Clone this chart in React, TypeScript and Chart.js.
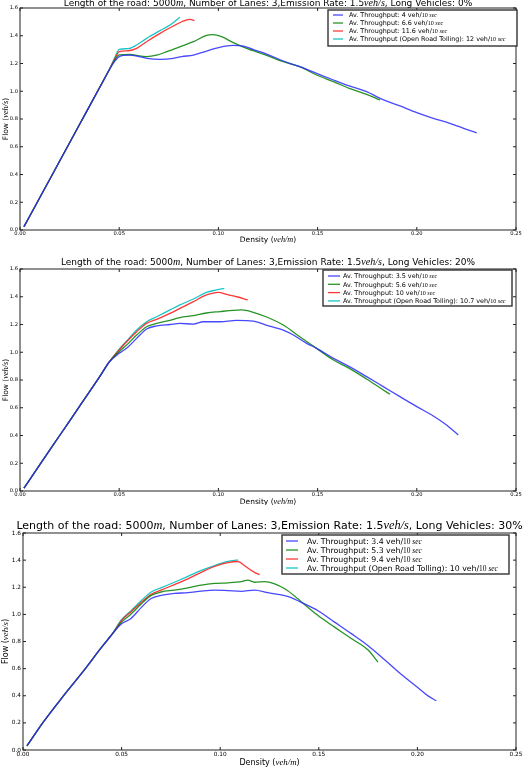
import React, { useEffect, useRef } from "react";
import { Chart, registerables } from "chart.js";
Chart.register(...registerables);

// ---------- Data: Long Vehicles 0% ----------
const c1StartX = [0.002, 0.01, 0.02, 0.03, 0.04, 0.045];
const c1StartY = [0.024, 0.234, 0.497, 0.76, 1.023, 1.155];
const c1BlueX = [0.048, 0.05, 0.055, 0.06, 0.064, 0.0706, 0.0773, 0.0815, 0.0874, 0.094, 0.1, 0.1075, 0.1126, 0.1176, 0.124, 0.1327, 0.141, 0.1495, 0.158, 0.166, 0.1747, 0.1815, 0.1915, 0.2, 0.2083, 0.2167, 0.225, 0.2302];
const c1BlueY = [1.22, 1.25, 1.26, 1.25, 1.237, 1.23, 1.237, 1.25, 1.26, 1.29, 1.314, 1.33, 1.326, 1.3, 1.27, 1.218, 1.177, 1.129, 1.081, 1.038, 0.997, 0.949, 0.894, 0.846, 0.805, 0.769, 0.726, 0.7];
const c1GreenX = [0.048, 0.05, 0.055, 0.0638, 0.0689, 0.074, 0.0806, 0.0874, 0.094, 0.0974, 0.1016, 0.1075, 0.1142, 0.124, 0.1327, 0.141, 0.1495, 0.158, 0.166, 0.1747, 0.1815];
const c1GreenY = [1.23, 1.262, 1.265, 1.25, 1.26, 1.285, 1.32, 1.357, 1.403, 1.408, 1.393, 1.35, 1.309, 1.261, 1.213, 1.177, 1.117, 1.069, 1.021, 0.978, 0.937];
const c1RedX = [0.048, 0.05, 0.0546, 0.0588, 0.0638, 0.0706, 0.0773, 0.0815, 0.0857, 0.0879];
const c1RedY = [1.24, 1.285, 1.292, 1.309, 1.357, 1.417, 1.47, 1.501, 1.518, 1.509];
const c1CyanX = [0.048, 0.05, 0.0546, 0.0588, 0.0638, 0.0706, 0.0756, 0.0806];
const c1CyanY = [1.25, 1.302, 1.307, 1.333, 1.381, 1.437, 1.477, 1.533];
const c1Labels = ["Av. Throughput: 4 veh/", "Av. Throughput: 6.6 veh/", "Av. Throughput: 11.6 veh/", "Av. Throughput (Open Road Tolling): 12 veh/"];
const c1Long = "0%";

// ---------- Data: Long Vehicles 20% ----------
const c2StartX = [0.002, 0.01, 0.02, 0.03, 0.04, 0.045];
const c2StartY = [0.02, 0.19, 0.4, 0.61, 0.82, 0.93];
const c2BlueX = [0.05, 0.0546, 0.0588, 0.0638, 0.0689, 0.0756, 0.0806, 0.0874, 0.0924, 0.1008, 0.1092, 0.1176, 0.124, 0.1327, 0.1378, 0.1445, 0.1495, 0.158, 0.166, 0.1747, 0.1831, 0.1915, 0.2, 0.2083, 0.215, 0.2209];
const c2BlueY = [0.992, 1.04, 1.1, 1.168, 1.19, 1.2, 1.208, 1.203, 1.22, 1.22, 1.23, 1.225, 1.196, 1.16, 1.124, 1.064, 1.028, 0.956, 0.896, 0.824, 0.752, 0.68, 0.608, 0.541, 0.476, 0.404];
const c2GreenX = [0.05, 0.0546, 0.0588, 0.0638, 0.0689, 0.0756, 0.0806, 0.0874, 0.094, 0.1008, 0.1075, 0.1117, 0.1176, 0.124, 0.1327, 0.141, 0.1495, 0.158, 0.166, 0.1747, 0.1831, 0.1865];
const c2GreenY = [1.004, 1.064, 1.124, 1.184, 1.208, 1.23, 1.25, 1.264, 1.283, 1.293, 1.302, 1.305, 1.288, 1.256, 1.196, 1.112, 1.028, 0.944, 0.884, 0.807, 0.728, 0.697];
const c2RedX = [0.05, 0.0546, 0.0588, 0.0638, 0.0689, 0.0756, 0.0806, 0.0874, 0.094, 0.1, 0.1042, 0.1092, 0.1148];
const c2RedY = [1.016, 1.088, 1.148, 1.208, 1.237, 1.28, 1.316, 1.365, 1.413, 1.432, 1.417, 1.4, 1.377];
const c2CyanX = [0.05, 0.0546, 0.0588, 0.0638, 0.0689, 0.0756, 0.0806, 0.0874, 0.094, 0.0991, 0.103];
const c2CyanY = [1.023, 1.095, 1.16, 1.22, 1.256, 1.305, 1.341, 1.384, 1.432, 1.449, 1.46];
const c2Labels = ["Av. Throughput: 3.5 veh/", "Av. Throughput: 5.6 veh/", "Av. Throughput: 10 veh/", "Av. Throughput (Open Road Tolling): 10.7 veh/"];
const c2Long = "20%";

// ---------- Data: Long Vehicles 30% ----------
const c3StartX = [0.002, 0.01, 0.02, 0.03, 0.04, 0.045];
const c3StartY = [0.03, 0.2, 0.39, 0.57, 0.76, 0.85];
const c3BlueX = [0.05, 0.0548, 0.0599, 0.065, 0.07, 0.0768, 0.0836, 0.0904, 0.0971, 0.1039, 0.1107, 0.1174, 0.1242, 0.131, 0.136, 0.1411, 0.1496, 0.158, 0.1665, 0.175, 0.1834, 0.1919, 0.2003, 0.2054, 0.2096];
const c3BlueY = [0.93, 0.97, 1.05, 1.117, 1.14, 1.155, 1.16, 1.172, 1.179, 1.175, 1.17, 1.179, 1.16, 1.143, 1.124, 1.088, 1.027, 0.943, 0.858, 0.769, 0.665, 0.556, 0.459, 0.399, 0.363];
const c3GreenX = [0.05, 0.0548, 0.0599, 0.065, 0.07, 0.0768, 0.0836, 0.0904, 0.0971, 0.1039, 0.1107, 0.114, 0.1174, 0.1225, 0.1276, 0.1327, 0.1377, 0.1411, 0.1496, 0.158, 0.1665, 0.175, 0.18];
const c3GreenY = [0.943, 1.003, 1.076, 1.14, 1.165, 1.179, 1.196, 1.216, 1.228, 1.233, 1.242, 1.252, 1.237, 1.242, 1.225, 1.189, 1.136, 1.093, 0.991, 0.906, 0.822, 0.737, 0.648];
const c3RedX = [0.05, 0.0548, 0.0599, 0.065, 0.07, 0.0768, 0.0836, 0.0904, 0.0971, 0.1039, 0.109, 0.1124, 0.1174, 0.12];
const c3RedY = [0.955, 1.02, 1.088, 1.148, 1.179, 1.22, 1.262, 1.31, 1.353, 1.382, 1.39, 1.358, 1.31, 1.293];
const c3CyanX = [0.05, 0.0548, 0.0599, 0.065, 0.07, 0.0768, 0.0836, 0.0904, 0.0971, 0.1039, 0.109];
const c3CyanY = [0.962, 1.027, 1.1, 1.165, 1.196, 1.237, 1.28, 1.324, 1.36, 1.39, 1.402];
const c3Labels = ["Av. Throughput: 3.4 veh/", "Av. Throughput: 5.3 veh/", "Av. Throughput: 9.4 veh/", "Av. Throughput (Open Road Tolling): 10 veh/"];
const c3Long = "30%";

// Tick values
const xTicks = [0, 0.05, 0.1, 0.15, 0.2, 0.25];
const yTicks = [0, 0.2, 0.4, 0.6, 0.8, 1.0, 1.2, 1.4, 1.6];

// ---------- Styles / layout ----------
const COLORS = ["rgba(40,40,255,0.85)", "rgba(0,128,0,0.85)", "rgba(255,20,20,0.85)", "rgba(0,191,191,0.9)"];
const SANS = "'DejaVu Sans'";
const SERIF = "'Liberation Serif'";
const CW = 530;

type Seg = { t: string; f: string };

function richWidth(ctx: CanvasRenderingContext2D, segs: Seg[]) {
  let w = 0;
  for (const s of segs) {
    ctx.font = s.f;
    w += ctx.measureText(s.t).width;
  }
  return w;
}
function drawRich(ctx: CanvasRenderingContext2D, segs: Seg[], x: number, y: number, align: "left" | "center") {
  const total = richWidth(ctx, segs);
  let cx = align === "center" ? x - total / 2 : x;
  ctx.textAlign = "left";
  ctx.textBaseline = "alphabetic";
  for (const s of segs) {
    ctx.font = s.f;
    ctx.fillText(s.t, cx, y);
    cx += ctx.measureText(s.t).width;
  }
}

const specs = [
  {
    top: 0, height: 255, area: { l: 20, r: 516, t: 8, b: 230 },
    titleY: 6, titleSize: 9, tick: 5.2, axisSize: 7.5, xLabelY: 242, yLabelX: 8,
    legend: { x: 328, y: 10, w: 189, h: 36, first: 15, row: 8, lineX: 333, lineW: 10, textX: 349, size: 6.4 },
    startX: c1StartX, startY: c1StartY,
    xs: [c1BlueX, c1GreenX, c1RedX, c1CyanX], ys: [c1BlueY, c1GreenY, c1RedY, c1CyanY],
    labels: c1Labels, longPct: c1Long,
  },
  {
    top: 255, height: 250, area: { l: 20, r: 516, t: 14, b: 236 },
    titleY: 10, titleSize: 9, tick: 5.2, axisSize: 7.5, xLabelY: 249, yLabelX: 8,
    legend: { x: 323, y: 15, w: 189, h: 36, first: 21, row: 8.3, lineX: 328, lineW: 12, textX: 343, size: 6.4 },
    startX: c2StartX, startY: c2StartY,
    xs: [c2BlueX, c2GreenX, c2RedX, c2CyanX], ys: [c2BlueY, c2GreenY, c2RedY, c2CyanY],
    labels: c2Labels, longPct: c2Long,
  },
  {
    top: 505, height: 262, area: { l: 23, r: 516, t: 28, b: 245 },
    titleY: 24, titleSize: 11, tick: 5.8, axisSize: 8, xLabelY: 260, yLabelX: 8,
    legend: { x: 282, y: 30, w: 227, h: 39, first: 36, row: 9, lineX: 286, lineW: 12, textX: 307, size: 7.8 },
    startX: c3StartX, startY: c3StartY,
    xs: [c3BlueX, c3GreenX, c3RedX, c3CyanX], ys: [c3BlueY, c3GreenY, c3RedY, c3CyanY],
    labels: c3Labels, longPct: c3Long,
  },
];

function ChartPanel({ spec }: { spec: any }) {
  const ref = useRef<HTMLCanvasElement>(null);
  useEffect(() => {
    const datasets = spec.xs.map((xArr: number[], i: number) => {
      const allX = spec.startX.concat(xArr);
      const allY = spec.startY.concat(spec.ys[i]);
      return {
        label: spec.labels[i],
        data: allX.map((x: number, j: number) => ({ x, y: allY[j] })),
        borderColor: COLORS[i],
        backgroundColor: COLORS[i],
        borderWidth: 1.3,
        pointRadius: 0,
        showLine: true,
        fill: false,
        cubicInterpolationMode: "monotone",
      };
    });

    const decor = {
      id: "decor",
      afterDraw(chart: any) {
        const ctx = chart.ctx as CanvasRenderingContext2D;
        const a = chart.chartArea;
        const xs = chart.scales.x;
        const ys = chart.scales.y;
        ctx.save();
        // frame
        ctx.strokeStyle = "#222";
        ctx.lineWidth = 1;
        ctx.strokeRect(a.left, a.top, a.right - a.left, a.bottom - a.top);
        // inward ticks
        ctx.beginPath();
        for (const v of xTicks) {
          const px = xs.getPixelForValue(v);
          ctx.moveTo(px, a.bottom); ctx.lineTo(px, a.bottom - 3);
          ctx.moveTo(px, a.top); ctx.lineTo(px, a.top + 3);
        }
        for (const v of yTicks) {
          const py = ys.getPixelForValue(v);
          ctx.moveTo(a.left, py); ctx.lineTo(a.left + 3, py);
          ctx.moveTo(a.right, py); ctx.lineTo(a.right - 3, py);
        }
        ctx.stroke();

        ctx.fillStyle = "#000";
        // title
        const ts = spec.titleSize;
        const sansT = `${ts}px ${SANS}`;
        const serT = `italic ${ts * 1.12}px ${SERIF}`;
        drawRich(ctx, [
          { t: "Length of the road: 5000", f: sansT },
          { t: "m", f: serT },
          { t: ", Number of Lanes: 3,Emission Rate: 1.5", f: sansT },
          { t: "veh/s", f: serT },
          { t: ", Long Vehicles: " + spec.longPct, f: sansT },
        ], (a.left + a.right) / 2, spec.titleY, "center");

        // x axis title
        const as = spec.axisSize;
        const sansA = `${as}px ${SANS}`;
        const serA = `italic ${as * 1.1}px ${SERIF}`;
        drawRich(ctx, [
          { t: "Density (", f: sansA },
          { t: "veh/m", f: serA },
          { t: ")", f: sansA },
        ], (a.left + a.right) / 2, spec.xLabelY, "center");

        // y axis title
        ctx.save();
        ctx.translate(spec.yLabelX, (a.top + a.bottom) / 2);
        ctx.rotate(-Math.PI / 2);
        drawRich(ctx, [
          { t: "Flow (", f: sansA },
          { t: "veh/s", f: serA },
          { t: ")", f: sansA },
        ], 0, 0, "center");
        ctx.restore();

        // legend
        const L = spec.legend;
        ctx.fillStyle = "#fff";
        ctx.fillRect(L.x, L.y, L.w, L.h);
        ctx.strokeStyle = "#333";
        ctx.lineWidth = 1.4;
        ctx.strokeRect(L.x, L.y, L.w, L.h);
        const ls = L.size;
        const sansL = `${ls}px ${SANS}`;
        const serL = `${ls * 0.95}px ${SERIF}`;
        const serLi = `italic ${ls * 0.95}px ${SERIF}`;
        spec.labels.forEach((lab: string, i: number) => {
          const cy = L.first + i * L.row;
          ctx.strokeStyle = COLORS[i];
          ctx.lineWidth = 1.3;
          ctx.beginPath();
          ctx.moveTo(L.lineX, cy);
          ctx.lineTo(L.lineX + L.lineW, cy);
          ctx.stroke();
          ctx.fillStyle = "#000";
          drawRich(ctx, [
            { t: lab, f: sansL },
            { t: "10 ", f: serL },
            { t: "sec", f: serLi },
          ], L.textX, cy + ls * 0.36, "left");
        });
        ctx.restore();
      },
    };

    const chart = new Chart(ref.current!, {
      type: "scatter",
      data: { datasets },
      options: {
        animation: false,
        responsive: false,
        devicePixelRatio: 1,
        layout: { padding: { top: spec.area.t, right: CW - spec.area.r, bottom: 0, left: 0 } },
        plugins: { legend: { display: false }, title: { display: false }, tooltip: { enabled: false } },
        scales: {
          x: {
            type: "linear",
            min: 0,
            max: 0.25,
            afterBuildTicks: (s: any) => { s.ticks = xTicks.map((v) => ({ value: v })); },
            afterFit: (s: any) => { s.height = spec.height - spec.area.b; },
            ticks: {
              callback: (v: any) => Number(v).toFixed(2),
              font: { size: spec.tick, family: SANS },
              color: "#000",
              padding: 1,
              maxRotation: 0,
              autoSkip: false,
            },
            grid: { display: false, drawTicks: false },
            border: { display: false },
          },
          y: {
            type: "linear",
            min: 0,
            max: 1.6,
            afterBuildTicks: (s: any) => { s.ticks = yTicks.map((v) => ({ value: v })); },
            afterFit: (s: any) => { s.width = spec.area.l; },
            ticks: {
              callback: (v: any) => Number(v).toFixed(1),
              font: { size: spec.tick, family: SANS },
              color: "#000",
              padding: 2,
              autoSkip: false,
            },
            grid: { display: false, drawTicks: false },
            border: { display: false },
          },
        },
      } as any,
      plugins: [decor],
    });
    return () => chart.destroy();
  }, []);
  return (
    <canvas
      ref={ref}
      width={CW}
      height={spec.height}
      style={{ position: "absolute", left: 0, top: spec.top, width: CW, height: spec.height, display: "block" }}
    />
  );
}

export default function App() {
  return (
    <div style={{ position: "fixed", left: 0, top: 0, width: 522, height: 767, overflow: "hidden", background: "#fff" }}>
      {specs.map((s, i) => (
        <ChartPanel key={i} spec={s} />
      ))}
    </div>
  );
}
